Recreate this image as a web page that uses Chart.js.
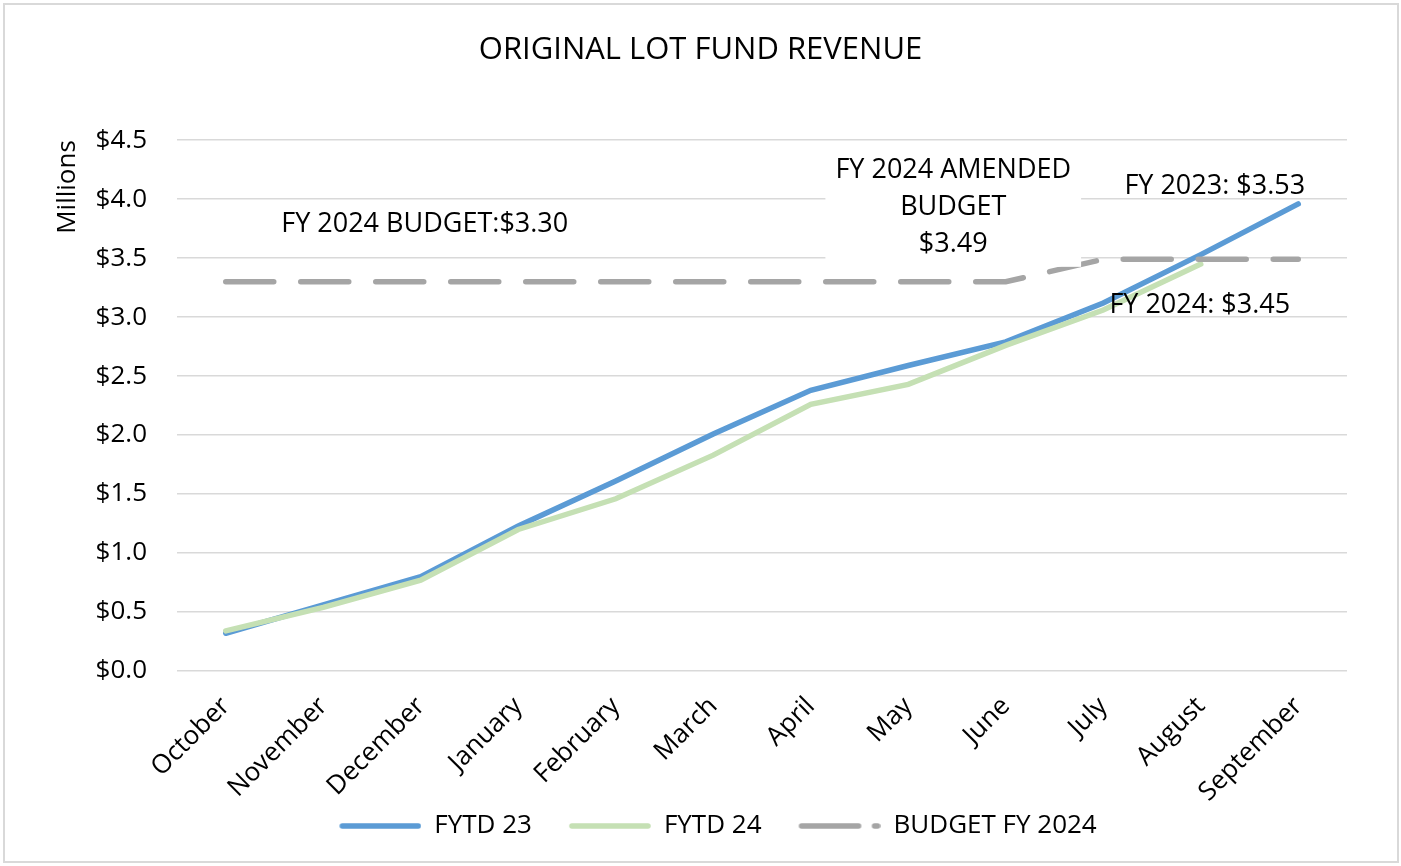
<!DOCTYPE html>
<html>
<head>
<meta charset="utf-8">
<script src="https://cdn.jsdelivr.net/npm/chart.js@4.4.1/dist/chart.umd.min.js"></script>
<style>
  body { margin: 0; background: #fff; }
  canvas { display: block; }
</style>
</head>
<body>
<canvas id="chart-area" width="1401" height="866"></canvas>
<script>
var months = ['October', 'November', 'December', 'January', 'February', 'March',
  'April', 'May', 'June', 'July', 'August', 'September'];
var fytd23 = [0.32, 0.56, 0.80, 1.23, 1.61, 2.01, 2.38, 2.59, 2.79, 3.12, 3.53, 3.96];
var fytd24 = [0.34, 0.54, 0.77, 1.20, 1.46, 1.83, 2.26, 2.43, 2.76, 3.06, 3.45];
var budget = [3.30, 3.30, 3.30, 3.30, 3.30, 3.30, 3.30, 3.30, 3.30, 3.49, 3.49, 3.49];

var FONT = "'Open Sans', sans-serif";

// text labels attached to data points (dataset, index, offset, lines)
var pointLabels = [
  { ds: 2, i: 2, dx: 4, dy: -57, lines: ['FY 2024 BUDGET:$3.30'] },
  { ds: 2, i: 9, dx: -150, dy: -52, lines: ['FY 2024 AMENDED', 'BUDGET', '$3.49'], bg: true },
  { ds: 0, i: 10, dx: 14, dy: -68, lines: ['FY 2023: $3.53'] },
  { ds: 1, i: 10, dx: -1, dy: 41, lines: ['FY 2024: $3.45'] }
];

var frame = {
  id: 'frame',
  beforeDraw: function(chart) {
    var ctx = chart.ctx;
    ctx.save();
    ctx.fillStyle = '#fff';
    ctx.fillRect(0, 0, chart.width, chart.height);
    ctx.strokeStyle = '#d9d9d9';
    ctx.lineWidth = 2;
    ctx.strokeRect(4, 4, chart.width - 7, chart.height - 8);
    ctx.restore();
  }
};

var labelPlugin = {
  id: 'pointLabels',
  afterDatasetsDraw: function(chart) {
    var ctx = chart.ctx;
    var lh = 37;
    ctx.save();
    ctx.font = '27px ' + FONT;
    ctx.textAlign = 'center';
    ctx.textBaseline = 'middle';
    pointLabels.forEach(function(l) {
      var pt = chart.getDatasetMeta(l.ds).data[l.i];
      var cx = pt.x + l.dx;
      var cy = pt.y + l.dy;
      var y0 = cy - (l.lines.length - 1) * lh / 2;
      if (l.bg) {
        var w = 0;
        l.lines.forEach(function(t) { w = Math.max(w, ctx.measureText(t).width); });
        ctx.fillStyle = '#fff';
        ctx.fillRect(cx - w / 2 - 10, y0 - lh / 2 - 4, w + 20, l.lines.length * lh + 8);
      }
      ctx.fillStyle = '#000';
      l.lines.forEach(function(t, k) {
        ctx.fillText(t, cx, y0 + k * lh);
      });
    });
    ctx.restore();
  }
};

// legend samples: a short line with some blank room on its left
var SAMPLE_LEN = 82;
var SAMPLE_GAP = 35;
function legendSample(color, dash) {
  var c = document.createElement('canvas');
  c.width = SAMPLE_GAP + SAMPLE_LEN;
  c.height = 10;
  var g = c.getContext('2d');
  g.strokeStyle = color;
  g.lineWidth = 5.5;
  g.lineCap = 'round';
  g.setLineDash(dash);
  g.beginPath();
  g.moveTo(SAMPLE_GAP + 3, 5);
  g.lineTo(c.width - 3, 5);
  g.stroke();
  return c;
}
var legendDash = [[], [], [57, 16]];

var config = {
  type: 'line',
  data: {
    labels: months,
    datasets: [{
      label: 'FYTD 23',
      data: fytd23,
      borderColor: '#5b9bd5',
      backgroundColor: '#5b9bd5',
      borderWidth: 5.5,
      borderCapStyle: 'round',
      order: 2
    }, {
      label: 'FYTD 24',
      data: fytd24,
      borderColor: '#c5e0b4',
      backgroundColor: '#c5e0b4',
      borderWidth: 5.5,
      borderCapStyle: 'round',
      order: 1
    }, {
      label: 'BUDGET FY 2024',
      data: budget,
      borderColor: '#a5a5a5',
      backgroundColor: '#a5a5a5',
      borderWidth: 5.5,
      borderDash: [48, 27],
      borderCapStyle: 'round',
      order: 0
    }]
  },
  options: {
    responsive: false,
    animation: false,
    tension: 0,
    elements: { point: { radius: 0, hoverRadius: 0 } },
    layout: { padding: { left: 0, right: 0, top: 0, bottom: 17 } },
    plugins: {
      tooltip: { enabled: false },
      title: {
        display: true,
        text: 'ORIGINAL LOT FUND REVENUE',
        color: '#000',
        font: { family: FONT, size: 31, weight: 'normal' },
        padding: { top: 32, bottom: 71 }
      },
      legend: {
        position: 'bottom',
        labels: {
          color: '#000',
          font: { family: FONT, size: 26 },
          usePointStyle: true,
          pointStyleWidth: SAMPLE_GAP + SAMPLE_LEN,
          boxHeight: 10,
          padding: 2,
          sort: function(a, b) { return a.datasetIndex - b.datasetIndex; },
          generateLabels: function(chart) {
            var items = Chart.defaults.plugins.legend.labels.generateLabels(chart);
            items.forEach(function(it) {
              var ds = chart.data.datasets[it.datasetIndex];
              it.pointStyle = legendSample(ds.borderColor, legendDash[it.datasetIndex]);
              it.lineWidth = 0;
            });
            return items;
          }
        }
      }
    },
    scales: {
      x: {
        offset: true,
        grid: { display: false },
        border: { display: false },
        ticks: {
          color: '#000',
          font: { family: FONT, size: 26 },
          minRotation: 45,
          maxRotation: 45,
          autoSkip: false,
          padding: 12
        },
        afterFit: function(scale) { scale.height = 140; }
      },
      y: {
        min: 0,
        max: 4.5,
        grid: { color: '#d9d9d9', lineWidth: 1.5, drawTicks: false },
        border: { display: false },
        title: {
          display: true,
          text: 'Millions',
          align: 'end',
          color: '#000',
          font: { family: FONT, size: 26 },
          padding: { top: 52, bottom: 0 }
        },
        ticks: {
          stepSize: 0.5,
          color: '#000',
          font: { family: FONT, size: 26 },
          padding: 30,
          callback: function(v) { return '$' + v.toFixed(1); }
        },
        afterFit: function(scale) { scale.width = 177; }
      },
      // empty right-hand margin so title and legend stay centred on the page
      yRight: {
        position: 'right',
        display: true,
        grid: { display: false },
        border: { display: false },
        ticks: { display: false },
        afterFit: function(scale) { scale.width = 54; }
      }
    }
  },
  plugins: [frame, labelPlugin]
};

window.onload = function() {
  var ctx = document.getElementById('chart-area').getContext('2d');
  window.myLine = new Chart(ctx, config);
};
</script>
</body>
</html>
